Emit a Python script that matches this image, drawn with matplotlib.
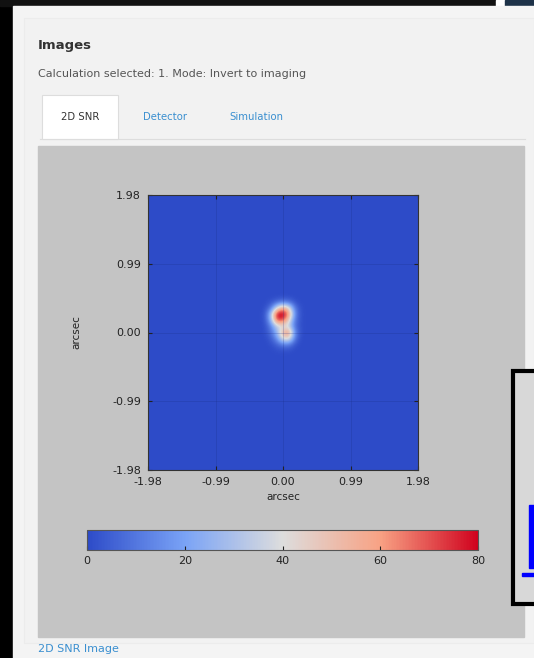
import numpy as np
import matplotlib
matplotlib.use("Agg")
import matplotlib.pyplot as plt
from matplotlib.patches import Rectangle
from matplotlib.colors import LinearSegmentedColormap

# ---- data ----
tick_values = [-1.98, -0.99, 0.00, 0.99, 1.98]
tick_labels = ["-1.98", "-0.99", "0.00", "0.99", "1.98"]
cbar_ticks = [0, 20, 40, 60, 80]
grid_size = 45
extent_arcsec = 1.98
patch_row0 = 17
patch_col0 = 19
snr_patch = [
    [0, 2, 6, 10, 8, 2, 0],
    [1, 10, 40, 60, 44, 10, 1],
    [2, 30, 82, 86, 62, 14, 1],
    [2, 24, 72, 70, 44, 10, 1],
    [1, 12, 32, 38, 34, 8, 1],
    [1, 8, 26, 56, 64, 14, 1],
    [0, 4, 16, 42, 44, 10, 0],
    [0, 1, 5, 10, 10, 2, 0],
    [0, 0, 1, 1, 1, 0, 0],
]
tabs = ["2D SNR", "Detector", "Simulation"]
cmap_colors = ["#2d4bc8", "#7aa3f6", "#dddddd", "#f8a284", "#d0021e"]

snr = np.zeros((grid_size, grid_size))
p = np.array(snr_patch, dtype=float)
snr[patch_row0:patch_row0 + p.shape[0], patch_col0:patch_col0 + p.shape[1]] = p
cmap = LinearSegmentedColormap.from_list("snr", cmap_colors)

W, H = 534, 658
fig = plt.figure(figsize=(W / 100, H / 100), dpi=100, facecolor="#f4f4f4")

def px_axes(x0, y0, x1, y1, **kw):
    return fig.add_axes([x0 / W, 1 - y1 / H, (x1 - x0) / W, (y1 - y0) / H], **kw)

bg = px_axes(0, 0, W, H)
bg.set_xlim(0, W)
bg.set_ylim(H, 0)
bg.axis("off")
bg.set_zorder(-5)

# page chrome
bg.add_patch(Rectangle((0, 0), 13, H, color="black"))
bg.add_patch(Rectangle((0, 0), 496, 6, color="#111111"))
bg.add_patch(Rectangle((496, 0), 9, 8, color="white"))
bg.add_patch(Rectangle((505, 0), 29, 6, color="#1d3248"))
bg.add_patch(Rectangle((13, 6), W - 13, H - 6, color="#f4f4f4"))
bg.add_patch(Rectangle((24, 18), W - 24, 625, color="#f2f2f2", ec="#ececec", lw=0.8))

bg.text(38, 46, "Images", fontsize=9.5, fontweight="bold", color="#333333", va="center")
bg.text(38, 74, "Calculation selected: 1. Mode: Invert to imaging", fontsize=8,
        color="#555555", va="center")

# tabs
bg.plot([40, 525], [139, 139], color="#dddddd", lw=0.8)
bg.add_patch(Rectangle((42, 95), 76, 44, facecolor="white", edgecolor="#dddddd", lw=0.8))
tab_x = [80, 165, 256]
for t, x in zip(tabs, tab_x):
    bg.text(x, 117, t, fontsize=7.3, ha="center", va="center",
            color="#333333" if t == "2D SNR" else "#3a8fd0")

# gray plot area
bg.add_patch(Rectangle((38, 146), 486, 491, color="#c4c4c4"))

bg.text(38, 649, "2D SNR Image", fontsize=8, color="#3a8fd0", va="center")

# right overlay box
bg.add_patch(Rectangle((513, 371), 30, 233, facecolor="#d8d8d8", edgecolor="black", lw=3))
bg.add_patch(Rectangle((529, 505), 8, 63, color="#0000ff"))
bg.add_patch(Rectangle((522, 573), 14, 3, color="#0000ff"))

# main heatmap
ax = px_axes(148, 195, 418, 470)
im = ax.imshow(snr, cmap=cmap, vmin=0, vmax=80, interpolation="bicubic",
               extent=[-extent_arcsec, extent_arcsec, -extent_arcsec, extent_arcsec],
               aspect="auto")
ax.set_xlim(-extent_arcsec, extent_arcsec)
ax.set_ylim(-extent_arcsec, extent_arcsec)
ax.set_xticks(tick_values)
ax.set_xticklabels(tick_labels)
ax.set_yticks(tick_values)
ax.set_yticklabels(tick_labels)
ax.tick_params(direction="in", length=3, labelsize=8, colors="#222222",
               top=True, right=True, pad=5)
ax.grid(True, color="#1a2a80", alpha=0.25, lw=0.6)
for s in ax.spines.values():
    s.set_color("#333333")
    s.set_linewidth(0.8)
ax.set_xlabel("arcsec", fontsize=7.5, color="#222222", labelpad=4)
ax.set_ylabel("arcsec", fontsize=7.5, color="#222222", labelpad=22)

# colorbar
cax = px_axes(87, 530, 478, 550)
cb = fig.colorbar(im, cax=cax, orientation="horizontal", ticks=cbar_ticks)
cb.ax.tick_params(labelsize=8, colors="#222222", length=3, direction="in", pad=4)
cb.outline.set_edgecolor("#555555")
cb.outline.set_linewidth(0.8)

fig.savefig("out.png", dpi=100, facecolor=fig.get_facecolor())
